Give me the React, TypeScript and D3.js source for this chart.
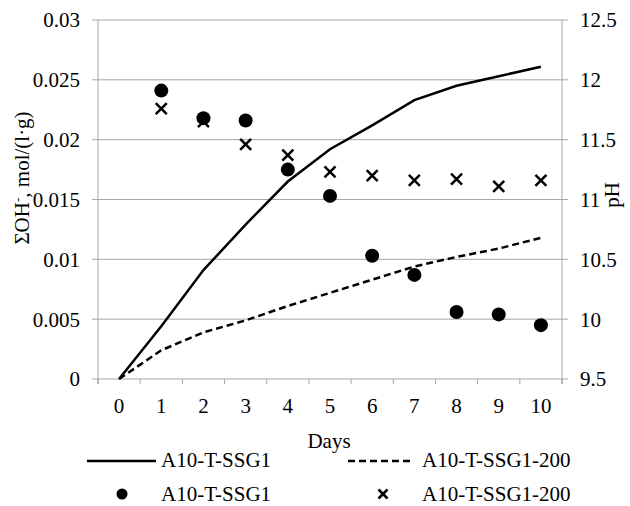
import React from "react";
import * as d3 from "d3";

const days = [0, 1, 2, 3, 4, 5, 6, 7, 8, 9, 10];
const ohSSG1 = [0, 0.0044, 0.0091, 0.0129, 0.0165, 0.0192, 0.0212, 0.0233, 0.0245, 0.0253, 0.0261];
const ohSSG1200 = [0, 0.0024, 0.0039, 0.0049, 0.0061, 0.0072, 0.0083, 0.0094, 0.0102, 0.0109, 0.0118];
const phDays = [1, 2, 3, 4, 5, 6, 7, 8, 9, 10];
const phSSG1 = [11.91, 11.68, 11.66, 11.25, 11.03, 10.53, 10.37, 10.06, 10.04, 9.95];
const phSSG1200 = [11.76, 11.65, 11.46, 11.37, 11.23, 11.2, 11.16, 11.17, 11.11, 11.16];
const leftTicks = [0, 0.005, 0.01, 0.015, 0.02, 0.025, 0.03];
const leftTickLabels = ["0", "0.005", "0.01", "0.015", "0.02", "0.025", "0.03"];
const rightTicks = [9.5, 10, 10.5, 11, 11.5, 12, 12.5];
const rightTickLabels = ["9.5", "10", "10.5", "11", "11.5", "12", "12.5"];
const seriesNames = ["A10-T-SSG1", "A10-T-SSG1-200"];

export default function App() {
  const W = 630, H = 506;
  const left = 98, right = 562, top = 20, bottom = 379;
  const x = d3.scaleBand<number>().domain(days).range([left, right]);
  const cx = (d: number) => (x(d) ?? 0) + x.bandwidth() / 2;
  const yL = d3.scaleLinear().domain([0, 0.03]).range([bottom, top]);
  const yR = d3.scaleLinear().domain([9.5, 12.5]).range([bottom, top]);
  const line = d3.line<number>().x((_, i) => cx(days[i])).y((v) => yL(v));
  const grid = "#a6a6a6";
  const font = "Liberation Serif, DejaVu Serif, serif";
  const fs = 21;
  const ts: React.CSSProperties = { fontFamily: font, fontSize: fs };
  const boundaries = d3.range(days.length + 1).map((i) => left + i * x.bandwidth());
  const row1 = 460, row2 = 494;

  return (
    <svg width={W} height={H} style={{ position: "absolute", left: 0, top: 0, fontFamily: font }}>
      {leftTicks.map((t, i) => (
        <g key={"g" + i}>
          <line x1={left - 6} x2={right} y1={yL(t)} y2={yL(t)} stroke={grid} strokeWidth={1} />
          <text x={80} y={yL(t)} dy="0.35em" textAnchor="end" style={ts}>{leftTickLabels[i]}</text>
        </g>
      ))}
      {rightTicks.map((t, i) => (
        <g key={"r" + i}>
          <line x1={right} x2={right + 6} y1={yR(t)} y2={yR(t)} stroke={grid} strokeWidth={1} />
          <text x={580} y={yR(t)} dy="0.35em" textAnchor="start" style={ts}>{rightTickLabels[i]}</text>
        </g>
      ))}
      <line x1={left} x2={left} y1={top} y2={bottom + 5} stroke={grid} />
      <line x1={right} x2={right} y1={top} y2={bottom + 5} stroke={grid} />
      {boundaries.map((b, i) => (
        <line key={"b" + i} x1={b} x2={b} y1={bottom} y2={bottom + 5} stroke={grid} />
      ))}
      {days.map((d) => (
        <text key={"x" + d} x={cx(d)} y={406} dy="0.35em" textAnchor="middle" style={ts}>{d}</text>
      ))}
      <text x={329} y={441} dy="0.35em" textAnchor="middle" style={ts}>Days</text>
      <text transform={`translate(22,178) rotate(-90)`} textAnchor="middle" dy="0.35em" style={ts}>
        ΣOH<tspan dy="-7" style={{ fontSize: 13 }}>-</tspan><tspan dy="7">, mol/(l·g)</tspan>
      </text>
      <text transform={`translate(612,195) rotate(-90)`} textAnchor="middle" dy="0.35em" style={ts}>pH</text>

      <path d={line(ohSSG1) ?? ""} fill="none" stroke="#000" strokeWidth={2.5} />
      <path d={line(ohSSG1200) ?? ""} fill="none" stroke="#000" strokeWidth={2.5} strokeDasharray="7,4" />

      {phDays.map((d, i) => (
        <circle key={"c" + d} cx={cx(d)} cy={yR(phSSG1[i])} r={7} fill="#000" />
      ))}
      {phDays.map((d, i) => {
        const px = cx(d), py = yR(phSSG1200[i]), s = 5.5;
        return (
          <path key={"x" + d} d={`M${px - s},${py - s}L${px + s},${py + s}M${px - s},${py + s}L${px + s},${py - s}`} stroke="#000" strokeWidth={2.5} />
        );
      })}

      <line x1={87} x2={156} y1={row1 + 1} y2={row1 + 1} stroke="#000" strokeWidth={2.5} />
      <text x={161} y={row1} dy="0.35em" style={ts}>{seriesNames[0]}</text>
      <line x1={348} x2={414} y1={row1 + 1} y2={row1 + 1} stroke="#000" strokeWidth={2.5} strokeDasharray="7,4" />
      <text x={422} y={row1} dy="0.35em" style={ts}>{seriesNames[1]}</text>
      <circle cx={122} cy={row2} r={5.5} fill="#000" />
      <text x={161} y={row2} dy="0.35em" style={ts}>{seriesNames[0]}</text>
      <path d={`M378.5,${row2 - 4.5}L387.5,${row2 + 4.5}M378.5,${row2 + 4.5}L387.5,${row2 - 4.5}`} stroke="#000" strokeWidth={2.5} />
      <text x={422} y={row2} dy="0.35em" style={ts}>{seriesNames[1]}</text>
    </svg>
  );
}
